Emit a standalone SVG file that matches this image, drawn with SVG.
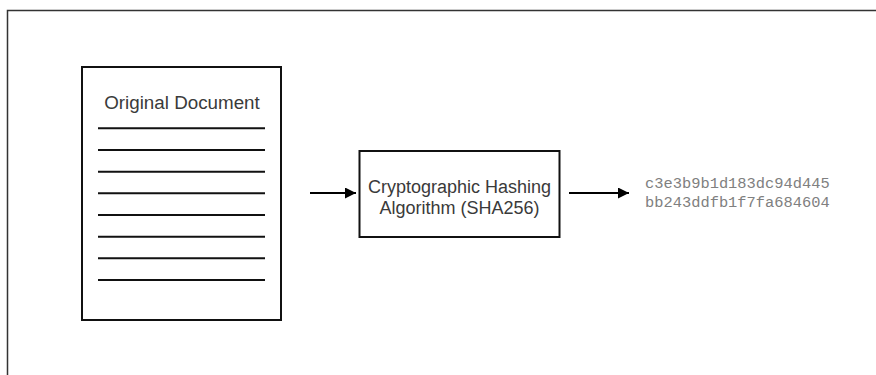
<svg xmlns="http://www.w3.org/2000/svg" width="876" height="375" viewBox="0 0 876 375">
<style>
.box{fill:#fff;stroke:#111;stroke-width:2}
.rule{stroke:#111;stroke-width:2}
.lbl{font-family:"Liberation Sans",Arial,sans-serif;font-size:18px;fill:#3a3a3a;text-anchor:middle}
.big{font-size:18.8px}
.hash{font-family:"Liberation Mono","Courier New",monospace;font-size:15.4px;fill:#808080}
.conn{stroke:#000;stroke-width:2.2;fill:none}
</style>
<defs>
<marker id="ah" viewBox="0 0 10 10" refX="10" refY="5" markerWidth="5.5" markerHeight="5" orient="auto" markerUnits="strokeWidth">
<path d="M0,0 L10,5 L0,10 z" fill="#000"/>
</marker>
</defs>
<rect width="876" height="375" fill="#fff"/>
<path d="M7.5,375 V10.5 H876" fill="none" stroke="#333" stroke-width="1.5"/>
<g id="document">
<rect class="box" x="82" y="67" width="199" height="253"/>
<text class="lbl big" x="182" y="109">Original Document</text>
<line class="rule" x1="98" y1="128.3" x2="265" y2="128.3"/>
<line class="rule" x1="98" y1="150" x2="265" y2="150"/>
<line class="rule" x1="98" y1="171.7" x2="265" y2="171.7"/>
<line class="rule" x1="98" y1="193.3" x2="265" y2="193.3"/>
<line class="rule" x1="98" y1="215" x2="265" y2="215"/>
<line class="rule" x1="98" y1="236.7" x2="265" y2="236.7"/>
<line class="rule" x1="98" y1="258.3" x2="265" y2="258.3"/>
<line class="rule" x1="98" y1="280" x2="265" y2="280"/>
</g>
<g id="hashing">
<rect class="box" x="359.5" y="151" width="200" height="86"/>
<text class="lbl" x="459.5" y="193.3">Cryptographic Hashing</text>
<text class="lbl" x="459.5" y="214">Algorithm (SHA256)</text>
</g>
<g id="digest">
<text class="hash" x="645" y="188">c3e3b9b1d183dc94d445</text>
<text class="hash" x="645" y="207">bb243ddfb1f7fa684604</text>
</g>
<g id="connectors">
<line class="conn" x1="310" y1="193" x2="356" y2="193" marker-end="url(#ah)"/>
<line class="conn" x1="569" y1="193" x2="629" y2="193" marker-end="url(#ah)"/>
</g>
</svg>
